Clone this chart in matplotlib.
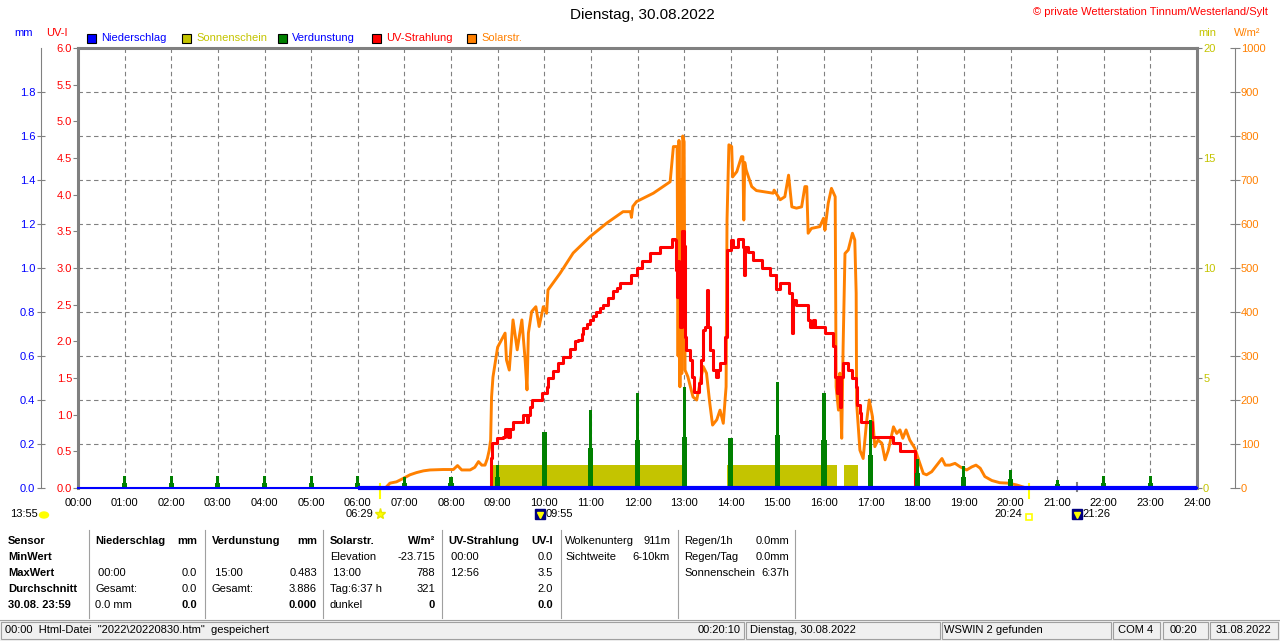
import matplotlib
matplotlib.use("Agg")
import matplotlib.pyplot as plt
import matplotlib.transforms as mtransforms
from matplotlib.patches import Rectangle, Ellipse
from matplotlib.lines import Line2D

plt.rcParams['font.family'] = ['Liberation Sans', 'DejaVu Sans']

# ---- data ----
hours = list(range(25))
hour_labels = [f"{h:02d}:00" for h in hours]

rain_t = [0.0, 6.0, 24.0]
rain_mm = [0.0, 0.0, 0.0]

verd_hours = [1, 2, 3, 4, 5, 6, 7, 8, 9, 10, 11, 12, 13, 14, 15, 16, 17, 18, 19, 20, 21, 22, 23]
verd_main = [0.055, 0.055, 0.055, 0.055, 0.055, 0.055, 0.051, 0.051, 0.105, 0.256, 0.355, 0.433,
             0.46, 0.229, 0.483, 0.433, 0.31, 0.13, 0.10, 0.08, 0.036, 0.055, 0.055]
verd_base = [0.025, 0.025, 0.025, 0.025, 0.025, 0.025, 0.025, 0.025, 0.051, 0.256, 0.18, 0.218,
             0.233, 0.229, 0.24, 0.218, 0.15, 0.07, 0.05, 0.04, 0.02, 0.025, 0.025]

sun_start = [8.84, 13.92, 16.42]
sun_end = [13.0, 16.28, 16.72]
sun_min = [1.05, 1.05, 1.05]

solar_points = [
    (6.55, 0), (6.61, 2), (6.69, 11), (6.83, 14), (6.98, 22), (7.12, 30), (7.26, 35),
    (7.41, 39), (7.55, 41), (7.83, 42), (8.05, 42), (8.14, 51), (8.23, 41), (8.41, 41),
    (8.51, 47), (8.59, 60), (8.66, 52), (8.73, 52), (8.78, 67), (8.82, 86), (8.85, 109),
    (8.87, 207), (8.90, 252), (9.00, 320), (9.16, 352), (9.19, 291), (9.25, 268),
    (9.33, 382), (9.42, 314), (9.52, 382), (9.59, 291), (9.63, 223), (9.66, 352),
    (9.73, 401), (9.82, 412), (9.89, 367), (9.98, 412), (10.05, 397), (10.08, 450),
    (10.34, 488), (10.62, 534), (10.98, 571), (11.34, 602), (11.69, 628), (11.85, 628),
    (11.87, 615), (11.90, 640), (11.98, 651), (12.34, 670), (12.70, 696), (12.77, 776),
    (12.85, 776), (12.87, 300), (12.89, 790), (12.91, 230), (12.93, 700), (12.95, 260),
    (12.97, 800), (13.00, 787), (13.02, 268), (13.08, 253), (13.19, 207), (13.27, 200),
    (13.41, 276), (13.48, 261), (13.55, 193), (13.61, 143), (13.70, 155), (13.77, 177),
    (13.84, 147), (13.90, 230), (13.92, 609), (13.96, 780), (14.02, 776), (14.04, 707),
    (14.13, 719), (14.23, 753), (14.26, 753), (14.28, 609), (14.30, 740), (14.33, 723),
    (14.45, 685), (14.55, 676), (14.91, 670), (14.93, 677), (15.06, 655), (15.16, 662),
    (15.24, 711), (15.31, 639), (15.41, 636), (15.52, 639), (15.59, 685), (15.63, 685),
    (15.66, 579), (15.73, 590), (15.91, 594), (15.99, 613), (16.02, 586), (16.09, 647),
    (16.16, 681), (16.24, 662), (16.26, 230), (16.31, 177), (16.34, 261), (16.38, 113),
    (16.41, 321), (16.45, 533), (16.52, 541), (16.61, 579), (16.66, 564), (16.69, 443),
    (16.70, 193), (16.77, 86), (16.84, 67), (16.91, 147), (16.97, 200), (17.04, 162),
    (17.09, 94), (17.16, 109), (17.24, 102), (17.31, 64), (17.38, 86), (17.49, 139),
    (17.56, 124), (17.63, 132), (17.69, 113), (17.76, 132), (17.84, 109), (17.95, 90),
    (18.02, 67), (18.13, 33), (18.20, 30), (18.31, 37), (18.42, 52), (18.53, 67),
    (18.60, 52), (18.70, 52), (18.81, 56), (18.92, 48), (19.06, 41), (19.17, 48),
    (19.26, 52), (19.35, 45), (19.45, 26), (19.60, 17), (19.77, 12), (19.95, 11),
    (20.13, 7), (20.28, 2), (20.33, 0),
]

uv_points = [
    (8.84, 0), (8.85, 0.41), (8.87, 0.61), (8.98, 0.68), (9.12, 0.70), (9.16, 0.81),
    (9.23, 0.70), (9.26, 0.81), (9.34, 0.90), (9.55, 1.0), (9.62, 0.9), (9.66, 1.0),
    (9.69, 1.11), (9.73, 1.2), (9.95, 1.29), (10.05, 1.38), (10.09, 1.5), (10.19, 1.59),
    (10.30, 1.7), (10.41, 1.79), (10.55, 1.9), (10.66, 2.0), (10.73, 2.02), (10.80, 2.1),
    (10.84, 2.18), (10.91, 2.24), (10.98, 2.29), (11.05, 2.35), (11.12, 2.40), (11.20, 2.45),
    (11.27, 2.5), (11.37, 2.59), (11.48, 2.68), (11.55, 2.73), (11.62, 2.79), (11.87, 2.9),
    (11.98, 3.0), (12.09, 3.09), (12.27, 3.2), (12.48, 3.29), (12.73, 3.4), (12.80, 3.38),
    (12.82, 2.97), (12.85, 2.61), (12.87, 3.1), (12.89, 2.8), (12.91, 2.2), (12.95, 3.5),
    (13.0, 3.3), (13.02, 2.06), (13.05, 1.88), (13.13, 1.75), (13.16, 1.52), (13.21, 1.31),
    (13.32, 1.43), (13.37, 1.75), (13.41, 2.15), (13.45, 2.2), (13.48, 2.7), (13.52, 2.2),
    (13.55, 1.88), (13.61, 1.61), (13.68, 1.52), (13.73, 1.61), (13.77, 1.70), (13.88, 2.06),
    (13.91, 2.7), (13.93, 3.25), (14.0, 3.38), (14.04, 3.29), (14.16, 3.4), (14.27, 3.29),
    (14.29, 2.9), (14.31, 3.29), (14.38, 3.22), (14.48, 3.11), (14.66, 3.0), (14.84, 2.9),
    (14.97, 2.88), (14.98, 2.72), (15.06, 2.79), (15.24, 2.66), (15.31, 2.11), (15.33, 2.56),
    (15.41, 2.5), (15.66, 2.29), (15.70, 2.2), (15.76, 2.29), (15.81, 2.2), (16.02, 2.11),
    (16.20, 1.93), (16.24, 1.52), (16.27, 1.29), (16.31, 1.52), (16.34, 1.11), (16.36, 1.52),
    (16.41, 1.70), (16.52, 1.61), (16.61, 1.5), (16.69, 1.38), (16.70, 1.13), (16.77, 1.02),
    (16.80, 0.90), (17.04, 0.70), (17.49, 0.61), (17.63, 0.50), (17.95, 0),
]

sun_events = [("06:29", 6.483), ("20:24", 20.4)]
moon_events = [("09:55", 9.917), ("21:26", 21.433)]

solar_t = [p[0] for p in solar_points]
solar_w = [p[1] for p in solar_points]
uv_t = [p[0] for p in uv_points]
uv_i = [p[1] for p in uv_points]

# ---- colours ----
BLUE = '#0000ff'
OLIVE = '#c4c400'
GREEN = '#008000'
RED = '#ff0000'
ORANGE = '#ff8000'
GRAY = '#808080'
YELLOW = '#ffff00'
NAVY = '#000080'

W, H = 1280, 641


def fx(px):
    return px / W


def fy(py):
    return 1 - py / H


fig = plt.figure(figsize=(12.8, 6.41), dpi=100)
rect = [fx(78), fy(488), fx(1197) - fx(78), fy(48) - fy(488)]

ax = fig.add_axes(rect)      # sunshine / min axis (right)
ax_w = ax.twinx()            # solar W/m2 (outer right)
ax_uv = ax.twinx()           # UV index (left)
ax_mm = ax.twinx()           # mm (outer left)
ax.set_zorder(1)
ax_w.set_zorder(2)
ax_uv.set_zorder(3)
ax_mm.set_zorder(4)

# base axes
ax.set_xlim(0, 24)
ax.set_ylim(0, 20)
ax.set_xticks(hours)
ax.set_xticklabels(hour_labels)
ax.tick_params(axis='x', length=0, pad=7, labelsize=8)
ax.grid(axis='x', color=GRAY, linestyle=(0, (4, 3)), lw=0.8)
ax.set_axisbelow(True)
for side in ['left', 'top', 'right']:
    ax.spines[side].set_color(GRAY)
    ax.spines[side].set_linewidth(2.2)
ax.spines['bottom'].set_color(GRAY)
ax.spines['bottom'].set_linewidth(0.8)
ax.yaxis.tick_right()
ax.set_yticks([0, 5, 10, 15, 20])
ax.set_yticklabels(['0', '5', '10', '15', '20'])
ax.tick_params(axis='y', direction='out', length=3.6, width=0.8, color=GRAY,
               labelcolor=OLIVE, labelsize=8, pad=0.8)

# W/m2 axis
ax_w.set_ylim(0, 1000)
ax_w.set_yticks(range(0, 1001, 100))
ax_w.set_yticklabels([str(v) for v in range(0, 1001, 100)])
ax_w.grid(axis='y', color=GRAY, linestyle=(0, (4, 3)), lw=0.8)
ax_w.set_axisbelow(True)
for s in ax_w.spines.values():
    s.set_visible(False)
ax_w.spines['right'].set_visible(True)
ax_w.spines['right'].set_position(('outward', 27.4))
ax_w.spines['right'].set_color(GRAY)
ax_w.spines['right'].set_linewidth(0.8)
ax_w.tick_params(axis='y', direction='inout', length=6.5, width=0.8, color=GRAY,
                 labelcolor=ORANGE, labelsize=8, pad=0.8)

# UV axis
ax_uv.yaxis.tick_left()
ax_uv.set_ylim(0, 6)
uv_ticks = [i * 0.5 for i in range(13)]
ax_uv.set_yticks(uv_ticks)
ax_uv.set_yticklabels([f"{v:.1f}" for v in uv_ticks])
for s in ax_uv.spines.values():
    s.set_visible(False)
ax_uv.tick_params(axis='y', direction='out', length=3.6, width=0.8, color=GRAY,
                  labelcolor=RED, labelsize=8, pad=0.6)

# mm axis
ax_mm.yaxis.tick_left()
ax_mm.set_ylim(0, 2)
mm_ticks = [i * 0.2 for i in range(10)]
ax_mm.set_yticks(mm_ticks)
ax_mm.set_yticklabels([f"{v:.1f}" for v in mm_ticks])
for s in ax_mm.spines.values():
    s.set_visible(False)
ax_mm.spines['left'].set_visible(True)
ax_mm.spines['left'].set_position(('outward', 26.6))
ax_mm.spines['left'].set_color(GRAY)
ax_mm.spines['left'].set_linewidth(0.8)
ax_mm.tick_params(axis='y', direction='inout', length=5.8, width=0.8, color=GRAY,
                  labelcolor=BLUE, labelsize=8, pad=1.2)

ax.yaxis.tick_right()

# ---- series ----
ax.bar(sun_start, sun_min, width=[e - s for s, e in zip(sun_start, sun_end)],
       align='edge', color=OLIVE, lw=0, zorder=2)
ax_w.plot(solar_t, solar_w, color=ORANGE, lw=2.1, zorder=3)
ax_uv.plot(uv_t, uv_i, color=RED, lw=2.2, drawstyle='steps-post', zorder=3)
ax_mm.bar(verd_hours, verd_base, width=0.11, color=GREEN, lw=0, zorder=2)
ax_mm.bar(verd_hours, verd_main, width=0.065, color=GREEN, lw=0, zorder=2)
ax_mm.plot(rain_t, rain_mm, color=BLUE, lw=1.5, clip_on=False, zorder=4)
ax_mm.plot(rain_t[1:], rain_mm[1:], color=BLUE, lw=3.0, clip_on=False,
           solid_capstyle='butt', zorder=4)

# ---- sun / moon events below the axis ----
tr_ax = mtransforms.blended_transform_factory(ax.transData, ax.transAxes)
tr_fig = mtransforms.blended_transform_factory(ax.transData, fig.transFigure)
for label, t in sun_events:
    ax.plot([t, t], [-0.022, 0.01], transform=tr_ax, color=YELLOW, lw=1.5,
            clip_on=False, zorder=6)
rise_label, rise_t = sun_events[0]
ax.annotate(rise_label, xy=(rise_t, fy(514)), xycoords=tr_fig, xytext=(-5, 0),
            textcoords='offset points', ha='right', va='center', fontsize=8)
ax.plot([rise_t], [fy(514)], transform=tr_fig, marker='*', ms=8, color=YELLOW,
        mec='#e8e800', clip_on=False)
set_label, set_t = sun_events[1]
ax.annotate(set_label, xy=(set_t, fy(514)), xycoords=tr_fig, xytext=(-5, 0),
            textcoords='offset points', ha='right', va='center', fontsize=8)
ax.plot([set_t], [fy(517)], transform=tr_fig, marker='s', ms=4, mfc='white',
        mec=YELLOW, mew=1.2, clip_on=False)

ax.plot([moon_events[1][1]] * 2, [-0.007, 0.012], transform=tr_ax, color=GRAY,
        lw=1.5, clip_on=False, zorder=6)
for label, t in moon_events:
    ax.plot([t], [fy(514)], transform=tr_fig, marker='s', ms=7, color=NAVY,
            clip_on=False)
    ax.plot([t], [fy(515)], transform=tr_fig, marker='v', ms=4, color=YELLOW,
            clip_on=False)
    ax.annotate(label, xy=(t, fy(514)), xycoords=tr_fig, xytext=(4, 0),
                textcoords='offset points', ha='left', va='center', fontsize=8)

fig.text(fx(10), fy(514), "13:55", fontsize=8, ha='left', va='center')
fig.add_artist(Ellipse((fx(44), fy(515)), fx(9), 6 / H, color=YELLOW,
                       transform=fig.transFigure))

# ---- titles, units, legend ----
fig.text(fx(642), fy(15), "Dienstag, 30.08.2022", fontsize=11, ha='center', va='center')
fig.text(fx(1268), fy(12), "© private Wetterstation Tinnum/Westerland/Sylt", fontsize=8,
         color=RED, ha='right', va='center')
fig.text(fx(14), fy(33), "mm", fontsize=8, color=BLUE, va='center')
fig.text(fx(46), fy(33), "UV-I", fontsize=8, color=RED, va='center')
fig.text(fx(1198), fy(33), "min", fontsize=8, color=OLIVE, va='center')
fig.text(fx(1234), fy(33), "W/m²", fontsize=8, color=ORANGE, va='center')

legend_items = [
    (87, BLUE, "Niederschlag", BLUE),
    (182, OLIVE, "Sonnenschein", OLIVE),
    (278, GREEN, "Verdunstung", BLUE),
    (372, RED, "UV-Strahlung", RED),
    (467, ORANGE, "Solarstr.", ORANGE),
]
for x0, col, text, tcol in legend_items:
    fig.add_artist(Rectangle((fx(x0), fy(43)), fx(9), 9 / H, facecolor=col,
                             edgecolor='black', lw=0.8, transform=fig.transFigure))
    fig.text(fx(x0 + 14), fy(38), text, fontsize=8, color=tcol, va='center')

# ---- summary table ----
row_y = [541, 557, 573, 589, 605]
for y, text in zip(row_y, ["Sensor", "MinWert", "MaxWert", "Durchschnitt", "30.08. 23:59"]):
    fig.text(fx(8), fy(y), text, fontsize=8, fontweight='bold', va='center')

table_cols = [
    (95, 197, ("Niederschlag", "mm"),
     [("", ""), (" 00:00", "0.0"), ("Gesamt:", "0.0"), ("0.0 mm", "0.0")]),
    (212, 317, ("Verdunstung", "mm"),
     [("", ""), (" 15:00", "0.483"), ("Gesamt:", "3.886"), ("", "0.000")]),
    (330, 435, ("Solarstr.", "W/m²"),
     [("Elevation", "-23.715"), (" 13:00", "788"), ("Tag:6:37 h", "321"), ("dunkel", "0")]),
    (448, 553, ("UV-Strahlung", "UV-I"),
     [(" 00:00", "0.0"), (" 12:56", "3.5"), ("", "2.0"), ("", "0.0")]),
]
for xl, xr, head, rows in table_cols:
    fig.text(fx(xl), fy(row_y[0]), head[0], fontsize=8, fontweight='bold', va='center')
    fig.text(fx(xr), fy(row_y[0]), head[1], fontsize=8, fontweight='bold', va='center',
             ha='right')
    for i, (lt, rt) in enumerate(rows):
        y = row_y[i + 1]
        fig.text(fx(xl), fy(y), lt, fontsize=8, va='center')
        fig.text(fx(xr), fy(y), rt, fontsize=8, va='center', ha='right',
                 fontweight='bold' if i == 3 else 'normal')

info_cols = [
    (565, 670, [("Wolkenunterg", "911m"), ("Sichtweite", "6-10km")]),
    (684, 789, [("Regen/1h", "0.0mm"), ("Regen/Tag", "0.0mm"), ("Sonnenschein", "6:37h")]),
]
for xl, xr, rows in info_cols:
    for i, (lt, rt) in enumerate(rows):
        fig.text(fx(xl), fy(row_y[i]), lt, fontsize=8, va='center')
        fig.text(fx(xr), fy(row_y[i]), rt, fontsize=8, va='center', ha='right')

for xs in [89, 205, 323, 442, 561, 678, 795]:
    fig.add_artist(Line2D([fx(xs), fx(xs)], [fy(530), fy(618)], color='#a0a0a0', lw=0.8,
                          transform=fig.transFigure))

# ---- status bar ----
fig.add_artist(Rectangle((0, 0), 1, fy(620), facecolor='#f0f0f0', edgecolor='none',
                         transform=fig.transFigure))
fig.add_artist(Line2D([0, 1], [fy(620), fy(620)], color='#a0a0a0', lw=0.8,
                      transform=fig.transFigure))
panels = [(1, 744), (746, 940), (942, 1111), (1113, 1160), (1163, 1208), (1210, 1278)]
for a, b in panels:
    fig.add_artist(Rectangle((fx(a), fy(639)), fx(b - a), 17 / H, facecolor='none',
                             edgecolor='#a0a0a0', lw=0.8, transform=fig.transFigure))
status_items = [
    (5, 'left', '00:00  Html-Datei  "2022\\20220830.htm"  gespeichert'),
    (741, 'right', "00:20:10"),
    (750, 'left', "Dienstag, 30.08.2022"),
    (944, 'left', "WSWIN 2 gefunden"),
    (1118, 'left', "COM 4"),
    (1170, 'left', "00:20"),
    (1216, 'left', "31.08.2022"),
]
for x0, ha, text in status_items:
    fig.text(fx(x0), fy(630), text, fontsize=8, ha=ha, va='center')

fig.savefig("out.png", dpi=100)
